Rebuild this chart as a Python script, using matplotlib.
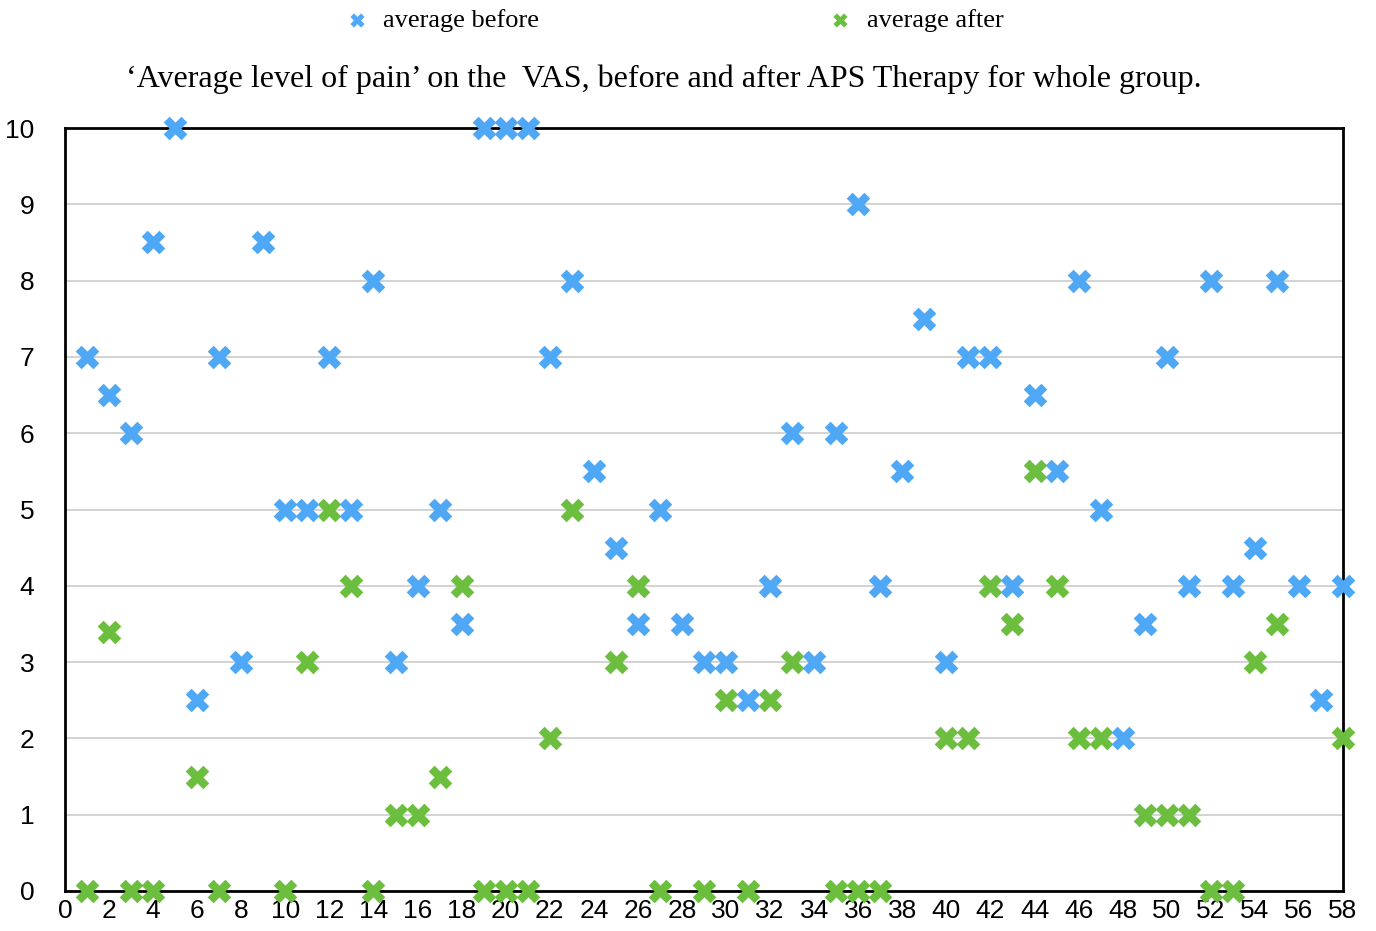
import numpy as np
import matplotlib
matplotlib.use('Agg')
import matplotlib.pyplot as plt

# patient index 1..58
patients = list(range(1, 59))

average_before = [7, 6.5, 6, 8.5, 10, 2.5, 7, 3, 8.5, 5,
                  5, 7, 5, 8, 3, 4, 5, 3.5, 10, 10,
                  10, 7, 8, 5.5, 4.5, 3.5, 5, 3.5, 3, 3,
                  2.5, 4, 6, 3, 6, 9, 4, 5.5, 7.5, 3,
                  7, 7, 4, 6.5, 5.5, 8, 5, 2, 3.5, 7,
                  4, 8, 4, 4.5, 8, 4, 2.5, 4]

# nan = no value shown
nan = np.nan
average_after = [0, 3.4, 0, 0, nan, 1.5, 0, nan, nan, 0,
                 3, 5, 4, 0, 1, 1, 1.5, 4, 0, 0,
                 0, 2, 5, nan, 3, 4, 0, nan, 0, 2.5,
                 0, 2.5, 3, nan, 0, 0, 0, nan, nan, 2,
                 2, 4, 3.5, 5.5, 4, 2, 2, nan, 1, 1,
                 1, 0, 0, 3, 3.5, nan, nan, 2]

blue = '#4FA8F5'
green = '#6CBF3E'

fig = plt.figure(figsize=(13.76, 9.31), dpi=100)
ax = fig.add_axes([65 / 1376, 1 - 891 / 931, (1343 - 65) / 1376, (891 - 128) / 931])

ax.scatter(patients, average_after, marker='X', s=17 ** 2, color=green,
           linewidths=0, clip_on=False, zorder=3, label='average after')
ax.scatter(patients, average_before, marker='X', s=17 ** 2, color=blue,
           linewidths=0, clip_on=False, zorder=4, label='average before')

ax.set_xlim(0, 58)
ax.set_ylim(0, 10)
ax.set_xticks(range(0, 59, 2))
ax.set_yticks(range(0, 11))
ax.tick_params(length=0, labelsize=19)
ax.tick_params(axis='x', pad=6)
ax.tick_params(axis='y', pad=22)
for lbl in ax.get_xticklabels() + ax.get_yticklabels():
    lbl.set_fontfamily('Liberation Sans')

ax.yaxis.grid(True, color='#cccccc', linewidth=1.2)
ax.set_axisbelow(True)
for sp in ax.spines.values():
    sp.set_linewidth(2)
    sp.set_color('black')

fig.text(664 / 1376, 1 - 79 / 931,
         '\u2018Average level of pain\u2019 on the  VAS, before and after APS Therapy for whole group.',
         ha='center', va='center', fontsize=23, family='Liberation Serif')

h, l = ax.get_legend_handles_labels()
leg = fig.legend(h[::-1], l[::-1], loc='center', bbox_to_anchor=(667 / 1376, 1 - 20 / 931),
                 ncol=2, frameon=False, columnspacing=10.4,
                 handletextpad=0.0, markerscale=0.6,
                 prop={'family': 'Liberation Serif', 'size': 19})

fig.savefig('out.png', dpi=100)
